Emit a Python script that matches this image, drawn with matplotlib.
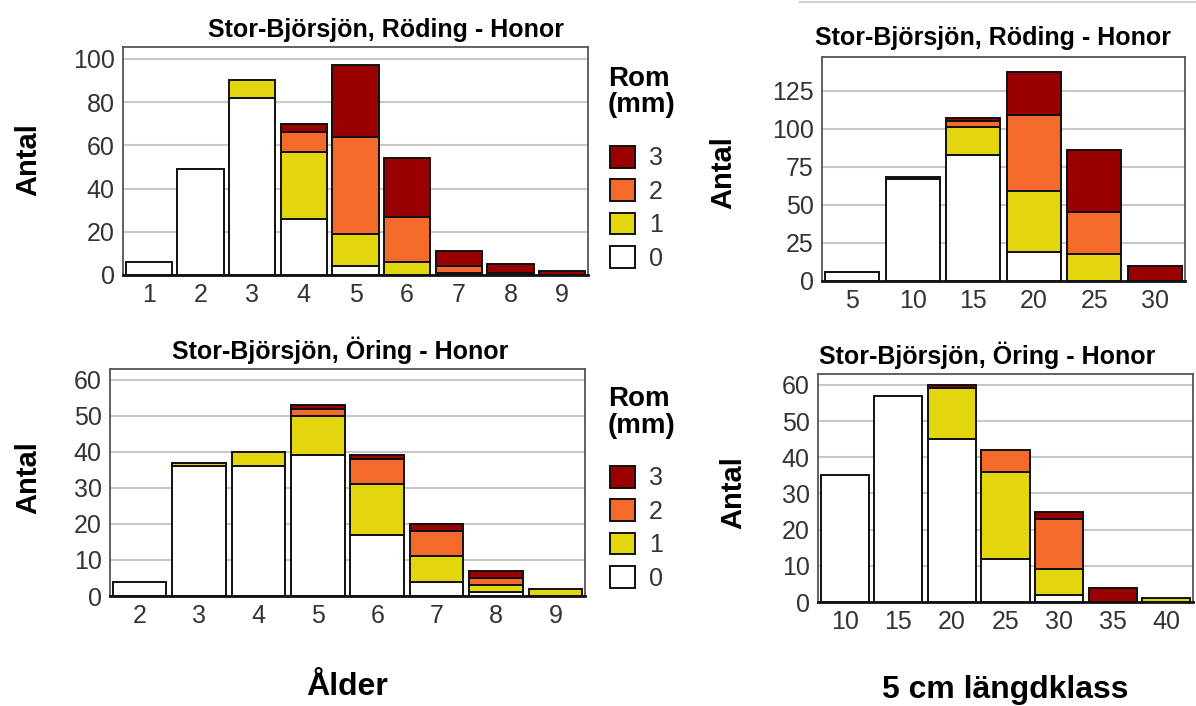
import matplotlib
matplotlib.use("Agg")
import matplotlib.pyplot as plt
import numpy as np
from matplotlib.lines import Line2D

plt.rcParams.update({"font.family": ["Liberation Sans", "DejaVu Sans"],
                     "font.size": 18})

# Röding, ålder
ages_r = [1, 2, 3, 4, 5, 6, 7, 8, 9]
r_0 = [6, 49, 82, 26, 4, 0, 0, 0, 0]
r_1 = [0, 0, 8, 31, 15, 6, 1, 0, 0]
r_2 = [0, 0, 0, 9, 45, 21, 3, 1, 0]
r_3 = [0, 0, 0, 4, 33, 27, 7, 4, 2]

# Röding, längdklass
len_r = [5, 10, 15, 20, 25, 30]
lr_0 = [6, 67, 83, 19, 0, 0]
lr_1 = [0, 0, 18, 40, 18, 0]
lr_2 = [0, 0, 4, 50, 27, 0]
lr_3 = [0, 1, 2, 28, 41, 10]

# Öring, ålder
ages_o = [2, 3, 4, 5, 6, 7, 8, 9]
o_0 = [4, 36, 36, 39, 17, 4, 1, 0]
o_1 = [0, 1, 4, 11, 14, 7, 2, 2]
o_2 = [0, 0, 0, 2, 7, 7, 2, 0]
o_3 = [0, 0, 0, 1, 1, 2, 2, 0]

# Öring, längdklass
len_o = [10, 15, 20, 25, 30, 35, 40]
lo_0 = [35, 57, 45, 12, 2, 0, 0]
lo_1 = [0, 0, 14, 24, 7, 0, 1]
lo_2 = [0, 0, 0, 6, 14, 0, 0]
lo_3 = [0, 0, 1, 0, 2, 4, 0]

rom_labels = ["0", "1", "2", "3"]
colors = ["#ffffff", "#e4d60e", "#f36a2a", "#9a0000"]

W, H = 1196, 706
fig = plt.figure(figsize=(W / 100, H / 100), dpi=100)


def box(l, t, r, b):
    return [l / W, 1 - b / H, (r - l) / W, (b - t) / H]


def panel(rect, cats, layers, ylim, yticks, title, tx, ty):
    ax = fig.add_axes(rect)
    x = np.arange(len(cats))
    bottom = np.zeros(len(cats))
    handles = []
    for vals, col, lab in zip(layers, colors, rom_labels):
        vals = np.array(vals, dtype=float)
        m = vals > 0
        bc = ax.bar(x[m], vals[m], bottom=bottom[m], width=0.9, color=col,
                    edgecolor="#111111", linewidth=1.4, zorder=3)
        handles.append(bc)
        bottom += vals
    ax.set_xlim(-0.5, len(cats) - 0.5)
    ax.set_ylim(*ylim)
    ax.set_xticks(x, [str(c) for c in cats])
    ax.set_yticks(yticks)
    ax.tick_params(length=0, colors="#333333", labelsize=18, pad=6)
    ax.yaxis.grid(True, color="#c8c8c8", linewidth=1.5, zorder=0)
    ax.set_axisbelow(True)
    for s in ax.spines.values():
        s.set_color("#555555")
        s.set_linewidth(1.3)
    ax.spines["bottom"].set_color("#111111")
    ax.spines["bottom"].set_linewidth(2)
    fig.text(tx / W, 1 - ty / H, title, ha="center", va="center",
             fontsize=18, fontweight="bold")
    return ax, handles


ax1, h1 = panel(box(123, 47, 588, 275), ages_r, [r_0, r_1, r_2, r_3],
                (0, 105.5), range(0, 101, 20),
                "Stor-Björsjön, Röding - Honor", 386, 30)
ax2, h2 = panel(box(822, 57, 1185, 281), len_r, [lr_0, lr_1, lr_2, lr_3],
                (0, 147), range(0, 126, 25),
                "Stor-Björsjön, Röding - Honor", 993, 38)
ax3, h3 = panel(box(110, 369, 585, 596), ages_o, [o_0, o_1, o_2, o_3],
                (0, 63), range(0, 61, 10),
                "Stor-Björsjön, Öring - Honor", 340, 350)
ax4, h4 = panel(box(818, 374, 1193, 602), len_o, [lo_0, lo_1, lo_2, lo_3],
                (0, 63), range(0, 61, 10),
                "Stor-Björsjön, Öring - Honor", 987, 355)

for x, y in [(28, 160), (723, 173), (28, 478), (733, 493)]:
    fig.text(x / W, 1 - y / H, "Antal", rotation=90, ha="center", va="center",
             fontsize=21, fontweight="bold")

fig.text(347 / W, 1 - 687 / H, "Ålder", ha="center", va="center",
         fontsize=23, fontweight="bold")
fig.text(1005 / W, 1 - 690 / H, "5 cm längdklass", ha="center", va="center",
         fontsize=23, fontweight="bold")

for handles, ttop, ltop in [(h1, 92, 146), (h3, 413, 466)]:
    fig.text(608 / W, 1 - ttop / H, "Rom\n(mm)", ha="left", va="center",
             fontsize=20, fontweight="bold", linespacing=1.05)
    leg = fig.legend(handles[::-1], rom_labels[::-1], loc="upper left",
                     bbox_to_anchor=(610 / W, 1 - ltop / H), frameon=False,
                     fontsize=18, handlelength=1.0, handleheight=0.95,
                     labelspacing=0.36, handletextpad=0.55,
                     borderaxespad=0, borderpad=0)
    for t in leg.get_texts():
        t.set_color("#333333")

fig.add_artist(Line2D([800 / W, 1], [1 - 2 / H, 1 - 2 / H], color="#d0d0d0",
                      linewidth=1.5))

fig.savefig("out.png", dpi=100)
